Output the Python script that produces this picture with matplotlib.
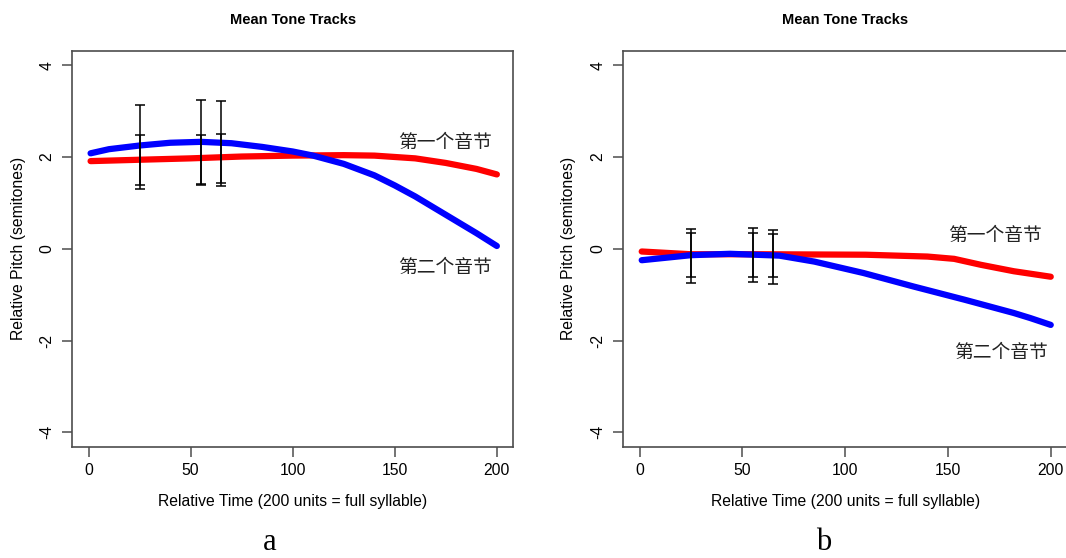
import matplotlib
matplotlib.use("Agg")
import matplotlib.pyplot as plt

plt.rcParams['font.family'] = ['Liberation Sans', 'DejaVu Sans']

# panel a
xa_red = [1, 25, 50, 75, 100, 125, 140, 150, 160, 175, 190, 200]
ya_red = [1.91, 1.94, 1.97, 2.01, 2.03, 2.04, 2.03, 2.00, 1.97, 1.87, 1.74, 1.62]
xa_blue = [1, 10, 25, 40, 55, 70, 85, 100, 110, 125, 140, 150, 160, 175, 190, 200]
ya_blue = [2.08, 2.17, 2.25, 2.31, 2.33, 2.30, 2.22, 2.12, 2.03, 1.85, 1.60, 1.38, 1.14, 0.74, 0.34, 0.06]

# panel b
xb_red = [1, 25, 60, 110, 140, 153, 166, 182, 200]
yb_red = [-0.06, -0.12, -0.12, -0.13, -0.17, -0.22, -0.35, -0.49, -0.61]
xb_blue = [1, 25, 44, 68, 85, 109, 133, 158, 182, 190, 200]
yb_blue = [-0.25, -0.14, -0.11, -0.15, -0.28, -0.53, -0.82, -1.11, -1.40, -1.51, -1.66]

# error bars at three time points (two bars each)
err_x = [25, 55, 65]
a_err1_mean = [2.225, 2.32, 2.29]
a_err1_half = [0.915, 0.92, 0.92]
a_err2_mean = [1.935, 1.955, 1.97]
a_err2_half = [0.535, 0.535, 0.53]
b_err1_mean = [-0.155, -0.14, -0.175]
b_err1_half = [0.595, 0.59, 0.585]
b_err2_mean = [-0.14, -0.14, -0.145]
b_err2_half = [0.48, 0.48, 0.475]

label1 = '第一个音节'
label2 = '第二个音节'
a_lab_pos = [(174.8, 2.31), (174.8, -0.40)]
b_lab_pos = [(173, 0.29), (176, -2.27)]

xticks = [0, 50, 100, 150, 200]
yticks = [-4, -2, 0, 2, 4]

W, H = 1066, 558
fig = plt.figure(figsize=(W / 100, H / 100), dpi=100)

spine_col = '#4d4d4d'
box_top, box_bot = 51, 446.5
box_h = box_bot - box_top


def make_panel(rect, xr, yr, xbl, ybl, e1m, e1h, e2m, e2h, labpos, letter, letter_x):
    ax = fig.add_axes(rect)
    ax.plot(xr, yr, color='#ff0000', lw=4.5, solid_capstyle='round', zorder=2)
    ax.plot(xbl, ybl, color='#0000ff', lw=4.5, solid_capstyle='round', zorder=3)
    ax.errorbar(err_x, e1m, yerr=e1h, fmt='none', ecolor='black', elinewidth=1.1,
                capsize=3.5, capthick=1.1, zorder=4)
    ax.errorbar(err_x, e2m, yerr=e2h, fmt='none', ecolor='black', elinewidth=1.1,
                capsize=3.5, capthick=1.1, zorder=4)
    ax.text(labpos[0][0], labpos[0][1], label1, ha='center', va='center', fontsize=13.5,
            color='#222222', family=['Noto Sans CJK SC', 'DejaVu Sans'])
    ax.text(labpos[1][0], labpos[1][1], label2, ha='center', va='center', fontsize=13.5,
            color='#222222', family=['Noto Sans CJK SC', 'DejaVu Sans'])
    ax.set_xlim(-8, 208)
    ax.set_ylim(-4.31, 4.31)
    ax.set_xticks(xticks)
    ax.set_yticks(yticks)
    ax.set_yticklabels([str(v) for v in yticks], rotation=90, va='center')
    ax.tick_params(direction='out', length=7, width=1.1, color=spine_col,
                   labelsize=11.3, labelcolor='black')
    ax.tick_params(axis='x', pad=5)
    ax.tick_params(axis='y', pad=6)
    for s in ax.spines.values():
        s.set_color(spine_col)
        s.set_linewidth(1.2)
    ax.set_xlabel('Relative Time (200 units = full syllable)', fontsize=11.3)
    ax.set_ylabel('Relative Pitch (semitones)', fontsize=11.3)
    ax.xaxis.set_label_coords(0.5, -55 / box_h)
    ax.xaxis.label.set_va('center')
    ax.yaxis.set_label_coords(-54 / 441, 0.5)
    ax.yaxis.label.set_va('center')
    ax.set_title('Mean Tone Tracks', fontsize=10.5, fontweight='bold', pad=19.5)
    fig.text(letter_x / W, 1 / H, letter, ha='center', va='bottom', fontsize=22,
             family='Liberation Serif')
    return ax


make_panel([72.2 / W, (H - box_bot) / H, 441 / W, box_h / H], xa_red, ya_red, xa_blue, ya_blue,
           a_err1_mean, a_err1_half, a_err2_mean, a_err2_half, a_lab_pos, 'a', 270)
make_panel([623.2 / W, (H - box_bot) / H, 444 / W, box_h / H], xb_red, yb_red, xb_blue, yb_blue,
           b_err1_mean, b_err1_half, b_err2_mean, b_err2_half, b_lab_pos, 'b', 824)

fig.savefig('out.png', dpi=100)
